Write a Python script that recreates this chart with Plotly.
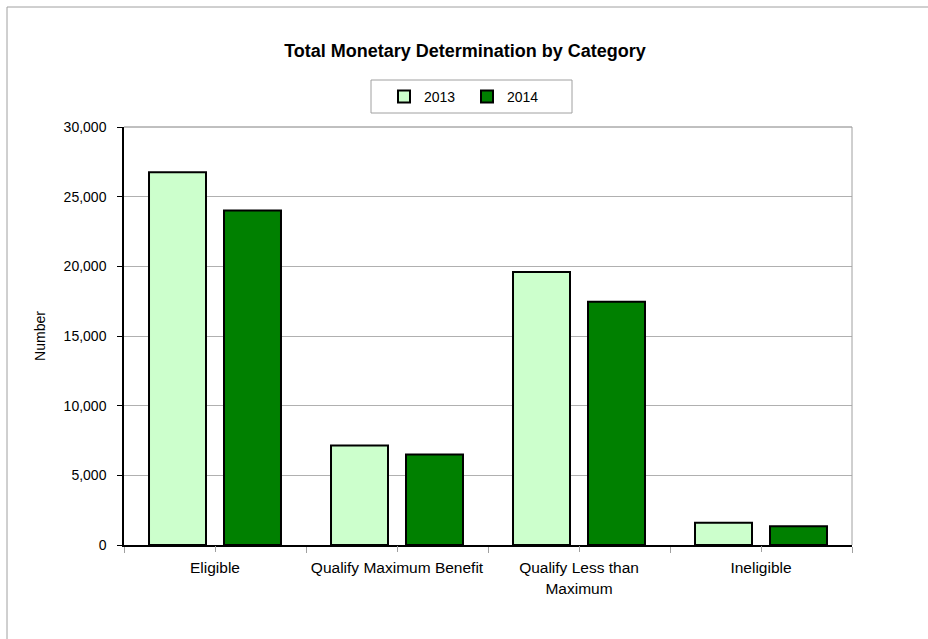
import plotly.graph_objects as go

categories = ["Eligible", "Qualify Maximum Benefit", "Qualify Less than<br>Maximum", "Ineligible"]
values_2013 = [26750, 7150, 19600, 1600]
values_2014 = [24000, 6500, 17450, 1350]
series_names = ["2013", "2014"]
y_tickvals = [0, 5000, 10000, 15000, 20000, 25000, 30000]

L, R, T, B = 124, 852, 127, 545
W, H = 928, 639
pw, ph = R - L, B - T

def px_x(x):
    return (x - L) / pw

def px_y(y):
    return (B - y) / ph

font = "Liberation Sans, Arial, sans-serif"

fig = go.Figure()
fig.add_trace(go.Bar(name=series_names[0], x=categories, y=values_2013,
                     marker=dict(color="#CCFFCC", line=dict(color="#000000", width=2))))
fig.add_trace(go.Bar(name=series_names[1], x=categories, y=values_2014,
                     marker=dict(color="#008000", line=dict(color="#000000", width=2))))
# helper trace for center tick marks
fig.add_trace(go.Scatter(x=categories, y=[None] * len(categories), xaxis="x2",
                         showlegend=False, hoverinfo="skip", mode="markers"))

fig.update_layout(
    width=W, height=H,
    margin=dict(l=L, r=W - R, t=T, b=H - B, autoexpand=False),
    paper_bgcolor="white", plot_bgcolor="white",
    barmode="group", bargap=0.176, bargroupgap=0.24,
    font=dict(family=font, size=14, color="#000000"),
    title=dict(text="<b>Total Monetary Determination by Category</b>",
               font=dict(family=font, size=18, color="#000000"),
               x=465 / W, xref="container", xanchor="center",
               y=1 - 51 / H, yref="container", yanchor="middle"),
    legend=dict(orientation="h", x=px_x(384), xanchor="left",
                y=px_y(81), yanchor="top",
                bordercolor="rgba(0,0,0,0)", borderwidth=0, bgcolor="rgba(0,0,0,0)",
                font=dict(family=font, size=14), entrywidth=38,
                itemwidth=30, traceorder="normal"),
    xaxis=dict(type="category", tickson="boundaries", ticks="outside", ticklen=6,
               tickcolor="#a0a0a0", showline=True, linecolor="#000000", linewidth=1.5,
               showgrid=False, range=[-0.5, 3.5], ticklabelstandoff=8,
               tickfont=dict(family=font, size=15.5, color="#000000")),
    xaxis2=dict(type="category", overlaying="x", matches="x", ticks="outside", ticklen=6,
                tickcolor="#a0a0a0", showticklabels=False, showgrid=False,
                showline=False, side="bottom", anchor="y"),
    yaxis=dict(range=[0, 30000], tickvals=y_tickvals, tickformat=",",
               ticks="outside", ticklen=5, tickcolor="#000000",
               showline=True, linecolor="#000000", linewidth=1.5,
               showgrid=True, gridcolor="#b0b0b0", gridwidth=1,
               zeroline=False, ticklabelstandoff=8,
               title=dict(text="Number", standoff=15, font=dict(family=font, size=14)),
               tickfont=dict(family=font, size=14, color="#000000")),
    showlegend=True,
)

# outer chart frame
fig.add_shape(type="rect", xref="paper", yref="paper",
              x0=px_x(7), x1=px_x(940), y0=px_y(650), y1=px_y(7),
              line=dict(color="#a0a0a0", width=1), fillcolor="rgba(0,0,0,0)", layer="below")
# legend box
fig.add_shape(type="rect", xref="paper", yref="paper",
              x0=px_x(371), x1=px_x(572), y0=px_y(113), y1=px_y(80),
              line=dict(color="#a0a0a0", width=1), fillcolor="rgba(0,0,0,0)", layer="below")
# plot area top and right borders
fig.add_shape(type="line", xref="paper", yref="paper", x0=0, x1=1, y0=1, y1=1,
              line=dict(color="#808080", width=1))
fig.add_shape(type="line", xref="paper", yref="paper", x0=1, x1=1, y0=0, y1=1,
              line=dict(color="#a0a0a0", width=1))

fig.write_html("out.html", config={"displayModeBar": False},
               post_script="document.body.style.margin='0px';")
